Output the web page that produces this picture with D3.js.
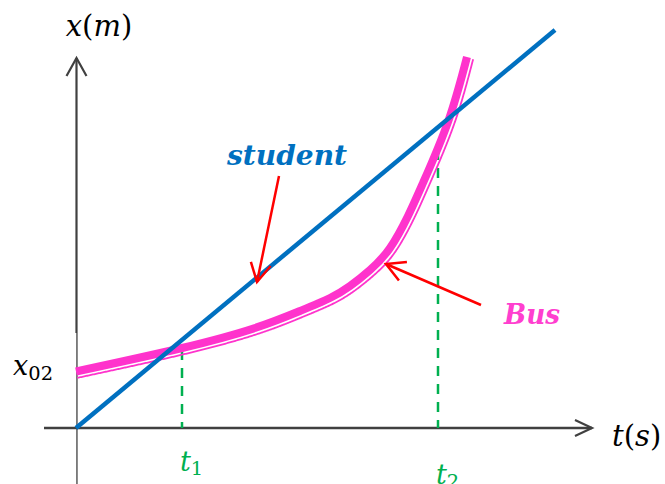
<!DOCTYPE html>
<html>
<head>
<meta charset="utf-8">
<script src="https://cdn.jsdelivr.net/npm/d3@7"></script>
<style>
  body { margin: 0; background: #fff; }
  svg { display: block; }
</style>
</head>
<body>
<div id="chart"></div>
<script>
// data (t in s, x in m, arbitrary units)
const studentT = [0, 9.58];
const studentX = [0, 9.95];

const busT = [0, 2.12, 3.58, 4.48, 5.08, 5.48, 5.88, 6.28, 6.64, 6.94, 7.44, 7.82];
const busX = [1.4125, 2.0, 2.5, 2.925, 3.25, 3.55, 3.95, 4.5, 5.3, 6.125, 7.65, 9.275];

const meetT = [2.12, 7.24];          // t1, t2
const meetX = [1.95, 6.95];          // top of dashed drop lines
const meetLabels = ["1", "2"];
const meetLabelY = [-1.08, -1.4];

// axis extents
const tAxis = [-0.64, 10.32];
const xAxisTop = 9.25;

// annotation anchors [t, x]
const studentLabel = [4.22, 6.575];
const studentArrow = [[4.06, 6.3], [3.62, 3.65]];
const busLabel = [8.56, 2.6];
const busArrow = [[8.1, 3.075], [6.2, 4.1]];

const W = 665, H = 484;

const t = d3.scaleLinear().domain([0, 10]).range([76, 576]);
const x = d3.scaleLinear().domain([0, 10]).range([428, 28]);

const svg = d3.select("#chart").append("svg")
  .attr("width", W).attr("height", H);

const axisColor = "#404040";
const blue = "#0070C0", pink = "#FF33CC", green = "#00B050", red = "#FF0000";

// vertical axis
const ax0 = t(0) + 0.5, ayTop = x(xAxisTop);
svg.append("line")
  .attr("x1", ax0).attr("x2", ax0)
  .attr("y1", ayTop).attr("y2", H)
  .attr("stroke", axisColor).attr("stroke-width", 2.2);
svg.append("path")
  .attr("d", `M${ax0 - 10},${ayTop + 18} L${ax0},${ayTop} L${ax0 + 10},${ayTop + 18}`)
  .attr("fill", "none").attr("stroke", axisColor).attr("stroke-width", 2.2);

// white label box partly hiding the axis
svg.append("rect")
  .attr("x", 0).attr("y", 333).attr("width", t(0) + 0.3).attr("height", H - 333)
  .attr("fill", "#fff");

// horizontal axis
const axEnd = t(tAxis[1]);
svg.append("line")
  .attr("x1", t(tAxis[0])).attr("x2", axEnd)
  .attr("y1", x(0)).attr("y2", x(0))
  .attr("stroke", axisColor).attr("stroke-width", 2.5);
svg.append("path")
  .attr("d", `M${axEnd - 17},${x(0) - 8} L${axEnd},${x(0)} L${axEnd - 17},${x(0) + 8}`)
  .attr("fill", "none").attr("stroke", axisColor).attr("stroke-width", 2.2);

// dashed drop lines
svg.append("g").selectAll("line")
  .data(meetT)
  .join("line")
  .attr("x1", d => t(d)).attr("x2", d => t(d))
  .attr("y1", (d, i) => x(meetX[i])).attr("y2", x(0))
  .attr("stroke", green).attr("stroke-width", 2.5)
  .attr("stroke-dasharray", "10,8");

// bus curve
const busLine = d3.line()
  .x(d => t(d[0])).y(d => x(d[1]))
  .curve(d3.curveNatural);
const busPts = busT.map((d, i) => [d, busX[i]]);

const busPath = svg.append("path")
  .attr("d", busLine(busPts))
  .attr("fill", "none").attr("stroke", pink).attr("stroke-width", 8);

// thin companion line offset to the lower-right of the bus curve
const node = busPath.node();
const len = node.getTotalLength();
const off = [];
for (let s = 0; s <= len; s += 1) {
  const a = node.getPointAtLength(Math.max(0, s - 3));
  const b = node.getPointAtLength(Math.min(len, s + 3));
  const p = node.getPointAtLength(s);
  const dx = b.x - a.x, dy = b.y - a.y, n = Math.hypot(dx, dy) || 1;
  off.push([p.x - dy / n * 6.5, p.y + dx / n * 6.5]);
}
svg.append("path")
  .attr("d", d3.line()(off.filter(p => p[0] >= t(0))))
  .attr("fill", "none").attr("stroke", pink).attr("stroke-width", 1.8);

// student line
svg.append("line")
  .attr("x1", t(studentT[0])).attr("y1", x(studentX[0]))
  .attr("x2", t(studentT[1])).attr("y2", x(studentX[1]))
  .attr("stroke", blue).attr("stroke-width", 4.5);

// red arrows
function arrow(a) {
  const [s, e] = a;
  const x1 = t(s[0]), y1 = x(s[1]), x2 = t(e[0]), y2 = x(e[1]);
  const ang = Math.atan2(y2 - y1, x2 - x1);
  const L = 21, sp = 0.5;
  svg.append("line")
    .attr("x1", x1).attr("y1", y1).attr("x2", x2).attr("y2", y2)
    .attr("stroke", red).attr("stroke-width", 2.5);
  svg.append("path")
    .attr("d", `M${x2 - L * Math.cos(ang - sp)},${y2 - L * Math.sin(ang - sp)} L${x2},${y2} L${x2 - L * Math.cos(ang + sp)},${y2 - L * Math.sin(ang + sp)}`)
    .attr("fill", "none").attr("stroke", red).attr("stroke-width", 2.5);
}
arrow(studentArrow);
arrow(busArrow);

// labels
const serif = "'DejaVu Serif', serif";

svg.append("text")
  .attr("x", t(studentLabel[0])).attr("y", x(studentLabel[1]))
  .attr("text-anchor", "middle")
  .attr("font-family", serif).attr("font-style", "italic").attr("font-weight", "bold")
  .attr("font-size", 27).attr("fill", blue)
  .attr("textLength", 120).attr("lengthAdjust", "spacingAndGlyphs")
  .text("student");

svg.append("text")
  .attr("x", t(busLabel[0])).attr("y", x(busLabel[1]))
  .attr("font-family", serif).attr("font-style", "italic").attr("font-weight", "bold")
  .attr("font-size", 27).attr("fill", "#FF3FCF")
  .attr("textLength", 56).attr("lengthAdjust", "spacingAndGlyphs")
  .text("Bus");

function mathLabel(px, py, parts, size, color, anchor) {
  const txt = svg.append("text")
    .attr("x", px).attr("y", py)
    .attr("text-anchor", anchor || "start")
    .attr("font-family", serif).attr("font-size", size).attr("fill", color || "#000");
  parts.forEach(p => {
    const ts = txt.append("tspan").text(p.s);
    if (p.i) ts.attr("font-style", "italic");
    if (p.sub) ts.attr("font-size", size * 0.72).attr("dy", p.dy);
  });
  return txt;
}

mathLabel(t(0.46), x(9.8), [{s: "x", i: 1}, {s: "("}, {s: "m", i: 1}, {s: ")"}], 29, "#000", "middle");
mathLabel(t(10.72), x(-0.45), [{s: "t", i: 1}, {s: "("}, {s: "s", i: 1}, {s: ")"}], 29, "#000");
mathLabel(t(-0.46), x(1.325), [{s: "x", i: 1}, {s: "02", sub: 1, dy: 5}], 27, "#000", "end");

meetT.forEach((d, i) => {
  mathLabel(t(d) - 2, x(meetLabelY[i]), [{s: "t", i: 1}, {s: meetLabels[i], sub: 1, dy: 4}], 27, green);
});
</script>
</body>
</html>
